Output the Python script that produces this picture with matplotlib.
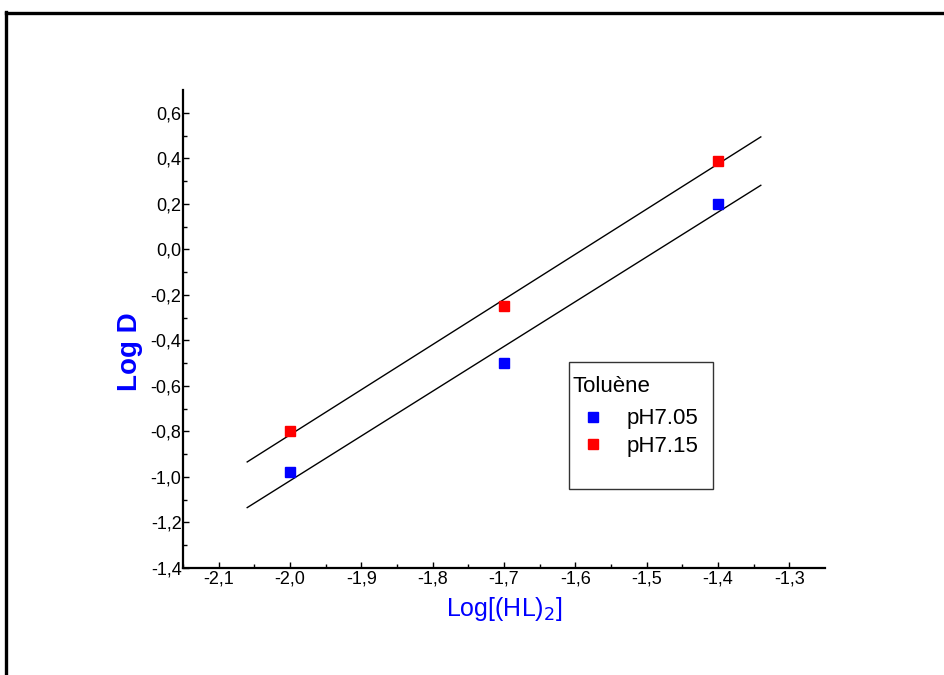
import matplotlib
matplotlib.use('Agg')
import matplotlib.pyplot as plt
import numpy as np
from matplotlib.lines import Line2D
from matplotlib.patches import Rectangle

plt.rcParams['font.family'] = ['Liberation Sans', 'DejaVu Sans']

x_vals = [-2.0, -1.7, -1.4]
ph705 = [-0.98, -0.50, 0.20]
ph715 = [-0.80, -0.25, 0.39]
fit_range = [-2.06, -1.34]


def comma(v):
    v = 0.0 if abs(v) < 1e-9 else v
    return f'{v:.1f}'.replace('.', ',')


W, H = 944, 675
fig = plt.figure(figsize=(W / 100, H / 100), dpi=100)
ax = fig.add_axes([183 / W, 1 - 568 / H, (825 - 183) / W, (568 - 90) / H])

# fitted lines
xf = np.array(fit_range)
for ys in (ph715, ph705):
    k, b = np.polyfit(x_vals, ys, 1)
    ax.plot(xf, k * xf + b, color='black', lw=1.0, zorder=2)

ax.plot(x_vals, ph705, 's', color='#0000ff', ms=7, label='pH7.05', zorder=3)
ax.plot(x_vals, ph715, 's', color='#ff0000', ms=7.5, label='pH7.15', zorder=3)

ax.set_xlim(-2.15, -1.25)
ax.set_ylim(-1.4, 0.7)
xt = np.round(np.arange(-2.1, -1.25, 0.1), 1)
yt = np.round(np.arange(-1.4, 0.65, 0.2), 1)
ax.set_xticks(xt)
ax.set_xticklabels([comma(v) for v in xt])
ax.set_yticks(yt)
ax.set_yticklabels([comma(v) for v in yt])
ax.set_xticks(np.arange(-2.15, -1.25, 0.1), minor=True)
ax.set_yticks(np.arange(-1.3, 0.7, 0.2), minor=True)
ax.tick_params(which='both', direction='in', labelsize=13, width=1)
ax.tick_params(which='major', length=4, pad=2)
ax.tick_params(which='minor', length=3)
ax.tick_params(axis='y', pad=1)

for s in ('top', 'right'):
    ax.spines[s].set_visible(False)
for s in ('left', 'bottom'):
    ax.spines[s].set_linewidth(1.6)

ax.set_xlabel('Log[(HL)$_2$]', color='#0000ff', fontsize=18, labelpad=5)
ax.set_ylabel('Log D', color='#0000ff', fontsize=20, fontweight='bold')
ax.yaxis.set_label_coords((143 - 183) / 642, (568 - 352) / 478)

leg = ax.legend(loc='upper left', bbox_to_anchor=(570 / W, 1 - 374 / H),
                bbox_transform=fig.transFigure, frameon=False, title='Toluène',
                fontsize=16, title_fontsize=16, alignment='left',
                handlelength=1.9, handletextpad=0.55, labelspacing=0.3,
                borderpad=0.1, borderaxespad=0, markerscale=1.0)
leg._legend_box.sep = 8
fig.patches.append(Rectangle((569 / W, 1 - 489 / H), (713 - 569) / W, (489 - 362) / H,
                             transform=fig.transFigure, fill=False, ec='#333333', lw=1))

# outer frame (top and left edges)
fig.lines.append(Line2D([6 / W, 1], [1 - 13 / H, 1 - 13 / H], transform=fig.transFigure,
                        color='black', lw=2.4))
fig.lines.append(Line2D([6 / W, 6 / W], [1 - 12 / H, 0], transform=fig.transFigure,
                        color='black', lw=2.4))

fig.savefig('out.png', dpi=100)
